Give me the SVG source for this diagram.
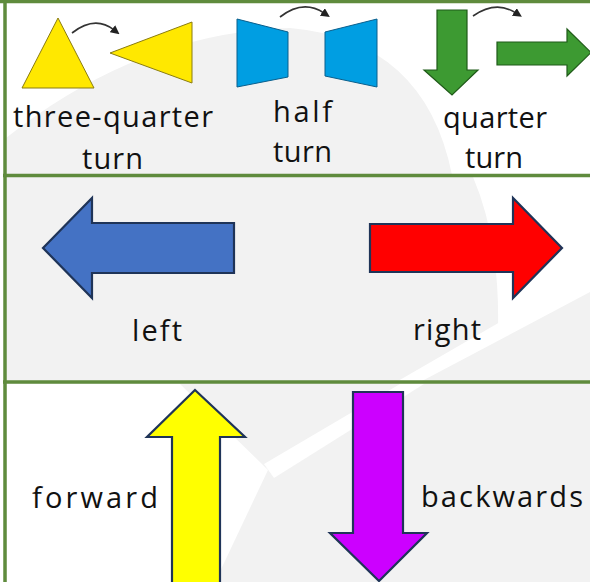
<svg xmlns="http://www.w3.org/2000/svg" width="590" height="582" viewBox="0 0 590 582">
<defs>
<style>
.lbl{font-family:"Open Sans","DejaVu Sans",sans-serif;font-size:29px;font-weight:400;fill:#111}
.border{stroke:#5f8b3d;stroke-width:3.5;fill:none}
.bg{fill:#ffffff}
.curve{fill:none;stroke:#333;stroke-width:1.6}
.tri{fill:#ffe800;stroke:#8a7c10;stroke-width:1}
.trap{fill:#009ee2;stroke:#0a5f8c;stroke-width:1}
.garrow{fill:#3d9a32;stroke:#1f5a18;stroke-width:1.2}
.bigarrow{stroke:#1f3458;stroke-width:2.2;stroke-linejoin:miter}
</style>
<marker id="ah" markerUnits="userSpaceOnUse" markerWidth="9" markerHeight="9" refX="2" refY="4.5" orient="auto">
<path d="M0,0 L9,4.5 L0,9 Z" fill="#222"/>
</marker>
</defs>

<g id="background">
<rect x="0" y="0" width="590" height="582" fill="#f2f2f2"/>
<path class="bg" d="M6,3 L590,3 L590,175 L452,175 Q425,40 290,28 Q140,32 6,138 Z"/>
<path class="bg" d="M473,177 L590,177 L590,275 L498,330 Q500,240 473,177 Z"/>
<polygon class="bg" points="398,381 422,381 590,292 590,270"/>
<path class="bg" d="M7,384 L180,384 L268,470 L215,582 L7,582 Z"/>
<polygon class="bg" points="264,464 400,384 424,384 274,478"/>
<rect x="0" y="0" width="4" height="582" fill="#ffffff"/>
</g>

<g id="borders">
<line class="border" x1="0" y1="1.5" x2="590" y2="1.5"/>
<line class="border" x1="5" y1="0" x2="5" y2="582"/>
<line class="border" x1="3" y1="175.5" x2="590" y2="175.5"/>
<line class="border" x1="3" y1="382" x2="590" y2="382"/>
</g>

<g id="three-quarter-turn">
<polygon class="tri" points="58,18 94,88 22,88"/>
<polygon class="tri" points="110,53 192,22 192,83"/>
<text class="lbl" x="13" y="127" textLength="200" lengthAdjust="spacing">three-quarter</text>
<text class="lbl" x="82" y="169" textLength="61" lengthAdjust="spacing">turn</text>
</g>

<g id="half-turn">
<polygon class="trap" points="237,19 288,32 288,77 237,87"/>
<polygon class="trap" points="325,32 377,19 377,87 325,76"/>
<text class="lbl" x="273" y="122" textLength="59" lengthAdjust="spacing">half</text>
<text class="lbl" x="273" y="162" textLength="59" lengthAdjust="spacing">turn</text>
</g>

<g id="quarter-turn">
<polygon class="garrow" points="437,10 467,10 467,70 478,70 452,95 424,70 437,70"/>
<polygon class="garrow" points="497,42 567,42 567,29 591,52.5 567,76 567,65 497,65"/>
<text class="lbl" x="443" y="128" textLength="104" lengthAdjust="spacing">quarter</text>
<text class="lbl" x="465" y="168" textLength="58" lengthAdjust="spacing">turn</text>
</g>

<g id="left">
<polygon class="bigarrow" fill="#4472c4" points="43,248 92,198 92,223 234,223 234,273 92,273 92,298"/>
<text class="lbl" x="132" y="341" textLength="50" lengthAdjust="spacing">left</text>
</g>

<g id="right">
<polygon class="bigarrow" fill="#ff0000" points="562,248 513,198 513,224 370,224 370,272 513,272 513,298"/>
<text class="lbl" x="413" y="340" textLength="68" lengthAdjust="spacing">right</text>
</g>

<g id="forward">
<polygon class="bigarrow" fill="#ffff00" points="195,390 245,437 220,437 220,584 172,584 172,437 147,437"/>
<text class="lbl" x="32" y="508" textLength="126" lengthAdjust="spacing">forward</text>
</g>

<g id="backwards">
<polygon class="bigarrow" fill="#cc00ff" points="353,392 403,392 403,533 427,533 379,581 330,533 353,533"/>
<text class="lbl" x="421" y="507" textLength="162" lengthAdjust="spacing">backwards</text>
</g>

<g id="connectors">
<path class="curve" d="M72,33 Q95,15 114,30" marker-end="url(#ah)"/>
<path class="curve" d="M280,17 Q303,-1 324,13" marker-end="url(#ah)"/>
<path class="curve" d="M473,16 Q496,0 516,13" marker-end="url(#ah)"/>
</g>
</svg>
